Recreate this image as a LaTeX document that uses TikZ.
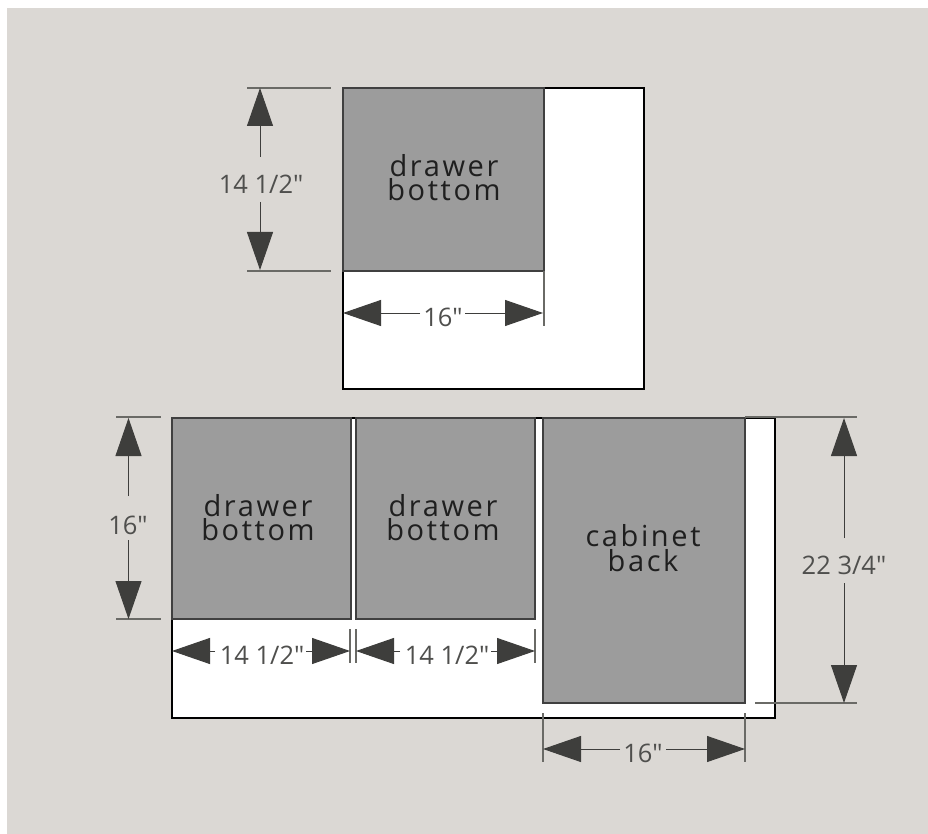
\documentclass[tikz,border=0pt]{standalone}
\usepackage{fontspec}
\setmainfont{Open Sans}
\newfontfamily\panelfont[LetterSpace=9]{Open Sans}
\newfontfamily\dimfont{Open Sans}
\usetikzlibrary{arrows.meta}
\definecolor{bgc}{HTML}{DBD8D4}
\definecolor{panelc}{HTML}{9C9C9C}
\definecolor{dimc}{HTML}{3E3E3C}
\definecolor{labc}{HTML}{4F4F4D}
\definecolor{extc}{HTML}{6A6A66}
\tikzset{
  board/.style={draw=black,line width=2pt,fill=white},
  panel/.style={draw=black!75,line width=1.2pt,fill=panelc},
  paneltext/.style={text=black!88,align=center,inner sep=0pt,font=\fontsize{29}{24.5}\selectfont\panelfont},
  dimlabel/.style={text=labc,inner sep=0pt,font=\fontsize{25.5}{28}\selectfont\dimfont},
  dimarrow/.style={draw=dimc,line width=1pt,-{Triangle[length=38pt,width=26pt,fill=dimc]}},
  extline/.style={draw=extc,line width=1.1pt}
}
\newcommand{\extl}[2]{\draw[extline] (#1) -- (#2);}
\begin{document}
\begin{tikzpicture}[x=1pt,y=-1pt]
\useasboundingbox (0,0) rectangle (928,834);
\fill[white] (0,0) rectangle (928,834);
\fill[bgc] (7,8) rectangle (928,834);

% boards
\draw[board] (343,88) rectangle (644,389);
\draw[board] (172,418) rectangle (775,718);

% panels
\draw[panel] (343,88) rectangle (544,271);
\draw[panel] (172,418) rectangle (351,619);
\draw[panel] (356,418) rectangle (535,619);
\draw[panel] (543,418) rectangle (745,703);

% panel texts
\node[paneltext] (pa) at (444,177.5) {drawer\\bottom};
\node[paneltext] (pb) at (258,517.5) {drawer\\bottom};
\node[paneltext] (pc) at (443,517.5) {drawer\\bottom};
\node[paneltext] (pd) at (643,548) {cabinet\\back};

% extension lines
\coordinate (a1) at (247,88);  \coordinate (a2) at (331,88);
\coordinate (a3) at (247,271); \coordinate (a4) at (331,271);
\extl{a1}{a2} \extl{a3}{a4}
\coordinate (b1) at (544,271); \coordinate (b2) at (544,326);
\extl{b1}{b2}
\coordinate (c1) at (116,417); \coordinate (c2) at (161,417);
\coordinate (c3) at (116,619); \coordinate (c4) at (161,619);
\extl{c1}{c2} \extl{c3}{c4}
\coordinate (d1) at (350,629); \coordinate (d2) at (350,663);
\coordinate (d3) at (356,629); \coordinate (d4) at (356,663);
\coordinate (d5) at (535,629); \coordinate (d6) at (535,663);
\extl{d1}{d2} \extl{d3}{d4} \extl{d5}{d6}
\coordinate (e1) at (543,713); \coordinate (e2) at (543,762);
\coordinate (e3) at (745,713); \coordinate (e4) at (745,762);
\extl{e1}{e2} \extl{e3}{e4}
\coordinate (f1) at (745,417); \coordinate (f2) at (857,417);
\coordinate (f3) at (755,703); \coordinate (f4) at (857,703);
\extl{f1}{f2} \extl{f3}{f4}

% dimension labels
\node[dimlabel] (la) at (261,184) {14 1/2″};
\node[dimlabel] (lb) at (443,317) {16"};
\node[dimlabel] (lc) at (128,525) {16"};
\node[dimlabel] (ld) at (262,655) {14 1/2″};
\node[dimlabel] (le) at (447,655) {14 1/2″};
\node[dimlabel] (lf) at (643,753) {16"};
\node[dimlabel] (lg) at (844,565) {22 3/4"};

% arrow tips
\coordinate (ta1) at (260,88);  \coordinate (ta2) at (260,270);
\coordinate (tb1) at (343,313); \coordinate (tb2) at (543,313);
\coordinate (tc1) at (128.5,418); \coordinate (tc2) at (128.5,619);
\coordinate (td1) at (172,651); \coordinate (td2) at (350,651);
\coordinate (te1) at (356,651); \coordinate (te2) at (535,651);
\coordinate (tf1) at (543,749); \coordinate (tf2) at (745,749);
\coordinate (tg1) at (844,418); \coordinate (tg2) at (844,703);

% dimension arrows: each stays on its own axis and stops short of its label
\draw[dimarrow,shorten <=27pt] (ta1 |- la.center) -- (ta1);
\draw[dimarrow,shorten <=18pt] (ta2 |- la.center) -- (ta2);
\draw[dimarrow,shorten <=23pt] (lb.center |- tb1) -- (tb1);
\draw[dimarrow,shorten <=22pt] (lb.center |- tb2) -- (tb2);
\draw[dimarrow,shorten <=29pt] (tc1 |- lc.center) -- (tc1);
\draw[dimarrow,shorten <=15pt] (tc2 |- lc.center) -- (tc2);
\draw[dimarrow,shorten <=47pt] (ld.center |- td1) -- (td1);
\draw[dimarrow,shorten <=44pt] (ld.center |- td2) -- (td2);
\draw[dimarrow,shorten <=47pt] (le.center |- te1) -- (te1);
\draw[dimarrow,shorten <=44pt] (le.center |- te2) -- (te2);
\draw[dimarrow,shorten <=23pt] (lf.center |- tf1) -- (tf1);
\draw[dimarrow,shorten <=23pt] (lf.center |- tf2) -- (tf2);
\draw[dimarrow,shorten <=27pt] (tg1 |- lg.center) -- (tg1);
\draw[dimarrow,shorten <=18pt] (tg2 |- lg.center) -- (tg2);
\end{tikzpicture}
\end{document}
